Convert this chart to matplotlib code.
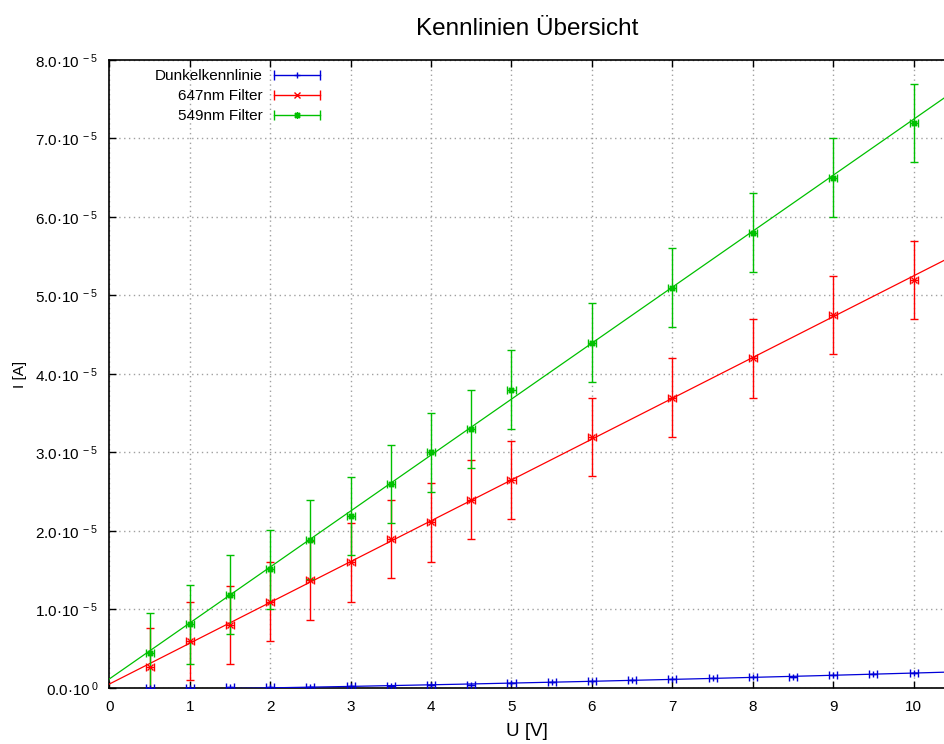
import numpy as np
import matplotlib
matplotlib.use("Agg")
import matplotlib.pyplot as plt
from matplotlib.lines import Line2D
from matplotlib.ticker import FuncFormatter
from matplotlib.legend_handler import HandlerLine2D, HandlerTuple

plt.rcParams['font.family'] = ['Liberation Sans', 'DejaVu Sans']
plt.rcParams['mathtext.fontset'] = 'custom'
plt.rcParams['mathtext.rm'] = 'Liberation Sans'

# Messwerte (Strom in A)
U_dunkel = np.arange(0.5, 10.01, 0.5)
I_dunkel = np.array([0.004, 0.006, 0.008, 0.010, 0.013, 0.020, 0.025, 0.034, 0.042, 0.058,
                     0.073, 0.090, 0.100, 0.115, 0.124, 0.136, 0.144, 0.160, 0.175, 0.195]) * 1e-5

U_filter = np.array([0.5, 1, 1.5, 2, 2.5, 3, 3.5, 4, 4.5, 5, 6, 7, 8, 9, 10])
I_647 = np.array([0.27, 0.60, 0.80, 1.10, 1.37, 1.60, 1.90, 2.11, 2.40, 2.65,
                  3.20, 3.70, 4.20, 4.75, 5.20]) * 1e-5
I_549 = np.array([0.45, 0.81, 1.19, 1.51, 1.89, 2.19, 2.60, 3.00, 3.30, 3.80,
                  4.40, 5.10, 5.80, 6.50, 7.20]) * 1e-5

# Fehler
dU = 0.05
dI = 0.5e-5

# Fit-Koeffizienten (Polynom, in 1e-5 A)
fit_dunkel = [0.000655, 0.01577, -0.0332]
fit_647 = [0.52, 0.05]
fit_549 = [0.713, 0.115]

labels = ["Dunkelkennlinie", "647nm Filter", "549nm Filter"]
farben = ["#0000d8", "#ff0000", "#00c000"]
marker = ["+", "x", (8, 2, 0)]

xmax = 10.39

fig = plt.figure(figsize=(9.45, 7.44), dpi=100)
ax = fig.add_axes([0.1157, 0.0753, 0.8843, 0.8441])

uu = np.linspace(0, xmax, 300)

# Dunkelkennlinie
ax.errorbar(U_dunkel, I_dunkel, xerr=dU, ls='none', marker=marker[0], color=farben[0], ms=5,
            capsize=3, elinewidth=1, capthick=1, zorder=3)
ax.plot(uu, np.polyval(fit_dunkel, uu) * 1e-5, color=farben[0], lw=0.9, zorder=3)

# 647nm
ax.errorbar(U_filter, I_647, xerr=dU, yerr=dI, ls='none', marker=marker[1], color=farben[1], ms=4,
            capsize=3, elinewidth=1, capthick=1, zorder=3)
ax.plot(uu, np.polyval(fit_647, uu) * 1e-5, color=farben[1], lw=0.9, zorder=3)

# 549nm
ax.errorbar(U_filter, I_549, xerr=dU, yerr=dI, ls='none', marker=marker[2], color=farben[2], ms=5,
            capsize=3, elinewidth=1, capthick=1, zorder=3)
ax.plot(uu, np.polyval(fit_549, uu) * 1e-5, color=farben[2], lw=0.9, zorder=3)

ax.set_xlim(0, xmax)
ax.set_ylim(0, 8e-5)
ax.set_xticks(np.arange(0, 11, 1))
ax.set_yticks(np.arange(0, 8.01, 1) * 1e-5)


def fmt_y(v, pos):
    if abs(v) < 1e-12:
        return r'$\mathregular{0.0·10^{\,0}}$'
    return r'$\mathregular{%.1f·10^{\,-5}}$' % (v / 1e-5)


ax.yaxis.set_major_formatter(FuncFormatter(fmt_y))
ax.tick_params(direction='in', top=True, right=False, length=5, width=1,
               labelsize=11, colors='black')
ax.tick_params(axis='y', pad=8)
ax.tick_params(axis='x', pad=9)

ax.grid(True, linestyle=(0, (1, 2.5)), color='#a0a0a0', lw=1)
ax.set_axisbelow(True)
for s in ['left', 'bottom', 'top']:
    ax.spines[s].set_linewidth(1.2)
ax.spines['right'].set_visible(False)

ax.set_xlabel("U [V]", fontsize=13.5, labelpad=6)
ax.set_ylabel("I [A]", fontsize=11, labelpad=6)
ax.set_title("Kennlinien Übersicht", fontsize=17.5, pad=18)

# Legende im gnuplot-Stil
handles = []
hmap = {tuple: HandlerTuple(ndivide=1, pad=0)}
for c, m in zip(farben, marker):
    caps = Line2D([], [], color=c, lw=1, marker='|', ms=7, mew=1)
    mid = Line2D([], [], color=c, ls='none', marker=m, ms=5, mew=1)
    hmap[mid] = HandlerLine2D(numpoints=1)
    handles.append((caps, mid))

ax.legend(handles, labels, handler_map=hmap, numpoints=2, markerfirst=False,
          frameon=False, fontsize=11, loc='upper right', bbox_to_anchor=(0.257, 0.985),
          borderpad=0, borderaxespad=0, handlelength=3.6, handletextpad=0.4,
          labelspacing=0.38)

fig.savefig("out.png", dpi=100)
